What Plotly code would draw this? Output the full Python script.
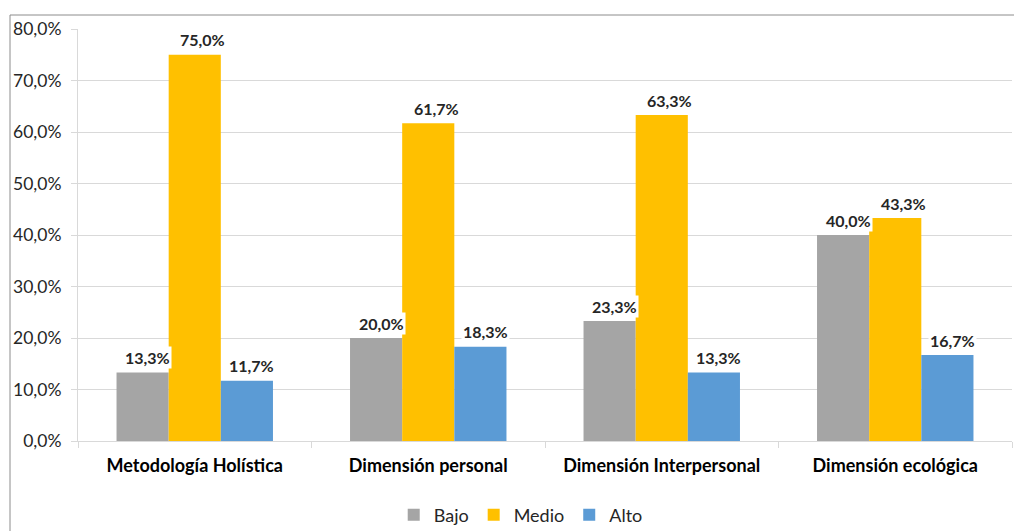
import plotly.graph_objects as go

categories = ["Metodología Holística", "Dimensión personal", "Dimensión Interpersonal", "Dimensión ecológica"]
series_names = ["Bajo", "Medio", "Alto"]
bajo = [13.3, 20.0, 23.3, 40.0]
medio = [75.0, 61.7, 63.3, 43.3]
alto = [11.7, 18.3, 13.3, 16.7]
y_ticks = [0, 10, 20, 30, 40, 50, 60, 70, 80]

colors = ["#A5A5A5", "#FFC000", "#5B9BD5"]
font_family = "Lato, 'Open Sans', sans-serif"

def fmt(v):
    return f"{v:.1f}".replace(".", ",") + "%"

fig = go.Figure()
all_series = [bajo, medio, alto]
for name, vals, col in zip(series_names, all_series, colors):
    fig.add_trace(go.Bar(
        name=name, x=categories, y=vals, marker=dict(color=col, line=dict(width=0)),
        offsetgroup=name,
    ))

# data labels with white background
bar_w = 52
xoffs = [-bar_w, 0, bar_w]
xnudge = [5, 8, 5]
annotations = []
for i, vals in enumerate(all_series):
    for c, v in zip(categories, vals):
        annotations.append(dict(
            x=c, y=v, xref="x", yref="y", text="<b>" + fmt(v) + "</b>",
            showarrow=False, xshift=xoffs[i] + xnudge[i], yshift=15,
            bgcolor="white", borderpad=1,
            font=dict(family=font_family, size=16, color="#262626"),
        ))

fig.update_layout(
    width=1014, height=523,
    margin=dict(l=70, r=10, t=21, b=90, autoexpand=False),
    paper_bgcolor="white", plot_bgcolor="white",
    separators=",.",
    barmode="group", bargap=0.33, bargroupgap=0,
    font=dict(family=font_family, size=16, color="#262626"),
    legend=dict(orientation="h", x=0.474, xanchor="center", y=-0.18, yanchor="middle",
                font=dict(size=18, color="#262626"), itemwidth=30, traceorder="normal"),
    annotations=annotations,
    shapes=[dict(type="rect", xref="paper", yref="paper",
                 x0=(2 - 70) / 934, x1=1.2, y0=-0.5, y1=(433 - 7) / 412,
                 line=dict(color="#8C8C8C", width=1), fillcolor="rgba(0,0,0,0)", layer="below")],
)
fig.update_yaxes(
    range=[0, 80], tickvals=y_ticks, ticktext=[fmt(t) for t in y_ticks],
    showgrid=True, gridcolor="#D9D9D9", gridwidth=1,
    showline=True, linecolor="#D9D9D9", linewidth=1,
    ticks="outside", ticklen=6, tickcolor="#D9D9D9", ticklabelstandoff=6,
    tickfont=dict(size=17.5, color="#262626"), zeroline=False, automargin=False,
)
fig.update_xaxes(
    showline=True, linecolor="#D9D9D9", linewidth=1,
    ticks="outside", tickson="boundaries", ticklen=6, tickcolor="#D9D9D9",
    ticklabelstandoff=8,
    tickfont=dict(size=18, color="#000000"), automargin=False,
    tickvals=categories, ticktext=["<b>" + c + "</b>" for c in categories],
)

fig.write_html("out.html")
